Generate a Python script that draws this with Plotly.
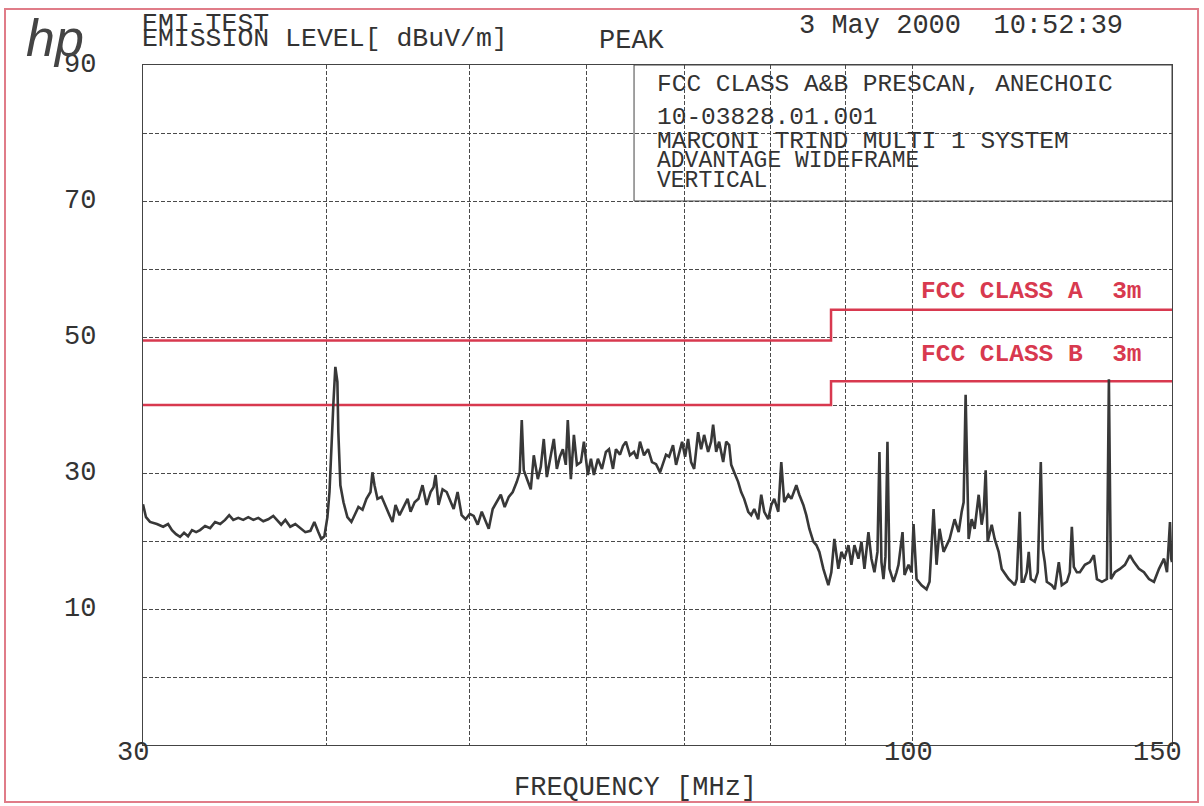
import math
import plotly.graph_objects as go

# ---------------- data ----------------
FREQ_MHZ = [
    30.00, 30.14, 30.33, 30.66, 30.96, 31.20, 31.39, 31.59, 31.79, 31.99,
    32.19, 32.39, 32.60, 32.80, 33.06, 33.32, 33.58, 33.85, 34.11, 34.33,
    34.55, 34.82, 35.09, 35.37, 35.65, 35.93, 36.21, 36.49, 36.78, 37.01,
    37.24, 37.48, 37.77, 38.07, 38.37, 38.67, 38.98, 39.22, 39.47, 39.65,
    39.84, 40.03, 40.16, 40.28, 40.41, 40.53, 40.66, 40.72, 40.85, 41.05,
    41.30, 41.56, 41.82, 42.02, 42.29, 42.55, 42.82, 42.95, 43.09, 43.29,
    43.57, 43.84, 44.11, 44.32, 44.53, 44.81, 45.09, 45.38, 45.59, 45.88,
    46.16, 46.45, 46.75, 47.04, 47.26, 47.41, 47.63, 47.93, 48.24, 48.54,
    48.77, 49.07, 49.38, 49.69, 50.01, 50.32, 50.64, 50.96, 51.28, 51.52,
    51.84, 52.17, 52.50, 52.82, 53.16, 53.49, 53.83, 54.08, 54.25, 54.42,
    54.68, 55.02, 55.28, 55.63, 55.89, 56.15, 56.42, 56.68, 57.04, 57.31,
    57.58, 57.85, 58.12, 58.30, 58.58, 58.86, 59.14, 59.51, 59.79, 60.16,
    60.45, 60.73, 61.11, 61.50, 61.88, 62.18, 62.57, 62.86, 63.26, 63.56,
    63.85, 64.25, 64.66, 64.97, 65.27, 65.68, 66.10, 66.51, 66.93, 67.35,
    67.67, 67.98, 68.31, 68.73, 69.06, 69.38, 69.71, 70.04, 70.37, 70.70,
    71.04, 71.48, 71.82, 72.16, 72.61, 72.95, 73.18, 73.53, 73.87, 74.34,
    74.69, 75.04, 75.28, 75.63, 76.10, 76.46, 76.82, 77.31, 77.67, 78.04,
    78.53, 78.90, 79.27, 79.77, 80.15, 80.52, 81.03, 81.41, 81.79, 82.31,
    82.70, 83.35, 83.74, 84.27, 84.66, 85.06, 85.60, 86.00, 86.41, 86.95,
    87.36, 87.63, 88.04, 88.46, 89.01, 89.44, 89.86, 90.43, 90.85, 91.28,
    91.85, 92.29, 92.72, 93.30, 93.74, 94.18, 94.63, 94.92, 95.22, 95.52,
    95.82, 96.12, 96.42, 97.03, 97.49, 97.79, 98.41, 98.72, 99.34, 99.81,
    100.12, 100.59, 101.38, 102.18, 102.66, 103.31, 103.79, 104.28, 104.94, 105.43,
    105.93, 106.76, 107.44, 107.95, 108.28, 108.62, 108.96, 109.13, 109.65, 110.16,
    110.86, 111.38, 111.73, 112.08, 112.43, 113.14, 113.67, 114.38, 114.93, 115.65,
    116.19, 116.74, 117.29, 117.66, 118.21, 118.58, 118.95, 119.51, 119.89, 120.27,
    121.02, 121.59, 122.17, 122.55, 122.93, 123.32, 124.29, 124.88, 125.66, 126.25,
    127.25, 127.84, 128.25, 128.65, 129.26, 129.87, 130.89, 131.92, 132.75, 133.38,
    134.43, 135.48, 135.90, 136.33, 137.19, 138.27, 139.35, 140.45, 141.34, 142.44,
    143.56, 144.69, 145.83, 146.98, 148.14, 148.83, 149.53, 149.80, 150.00,
]

LEVEL_DBUV = [
    25.4, 23.5, 22.8, 22.5, 22.1, 22.5, 21.6, 21.0, 20.6, 21.2,
    20.7, 21.6, 21.3, 21.6, 22.2, 21.9, 22.8, 22.5, 23.1, 23.8,
    23.1, 23.4, 23.1, 23.5, 23.1, 23.4, 22.9, 23.2, 23.7, 23.1,
    22.4, 23.1, 22.1, 22.5, 21.9, 21.3, 21.5, 22.8, 21.3, 20.3,
    20.7, 23.5, 27.2, 34.6, 40.4, 45.6, 43.4, 36.0, 28.2, 25.7,
    23.5, 22.8, 24.0, 25.0, 24.6, 26.2, 27.2, 30.1, 28.2, 26.2,
    26.5, 25.0, 23.8, 22.8, 25.3, 23.8, 25.0, 26.2, 24.3, 25.7,
    26.2, 28.2, 25.3, 27.2, 27.9, 29.7, 25.3, 27.6, 27.2, 25.7,
    24.7, 27.2, 23.8, 23.2, 24.0, 23.7, 22.4, 24.3, 22.8, 21.8,
    24.7, 25.7, 26.8, 25.0, 26.5, 27.2, 28.7, 30.1, 37.8, 30.4,
    29.1, 27.6, 32.6, 29.1, 30.9, 35.0, 29.4, 31.6, 35.0, 30.6,
    32.4, 33.5, 31.2, 37.8, 29.1, 35.6, 31.2, 31.6, 34.6, 29.7,
    32.1, 29.7, 32.1, 30.6, 33.1, 33.5, 30.6, 33.5, 32.7, 34.0,
    34.6, 32.6, 33.1, 32.1, 34.6, 32.6, 33.5, 31.6, 31.3, 30.1,
    31.3, 32.7, 32.4, 34.1, 31.2, 33.1, 34.6, 32.4, 35.0, 31.6,
    30.6, 36.0, 33.5, 35.6, 33.1, 34.6, 37.1, 33.1, 34.6, 31.6,
    34.6, 34.1, 31.2, 30.1, 28.7, 27.2, 26.2, 24.3, 23.8, 24.7,
    23.2, 26.8, 24.3, 23.2, 25.3, 26.2, 24.3, 31.6, 25.7, 26.8,
    26.2, 28.2, 26.8, 25.3, 23.8, 21.8, 19.9, 19.4, 18.4, 15.9,
    14.4, 13.5, 15.4, 20.3, 15.9, 18.4, 17.4, 19.4, 16.5, 19.4,
    17.4, 19.9, 15.9, 21.3, 17.4, 15.4, 18.4, 33.1, 16.9, 14.4,
    17.7, 34.6, 15.9, 14.0, 15.4, 16.5, 21.3, 15.0, 16.5, 15.4,
    22.5, 14.4, 13.5, 12.9, 14.0, 24.7, 16.5, 21.8, 18.4, 19.4,
    20.3, 23.2, 21.3, 24.3, 25.7, 41.5, 24.3, 20.3, 23.2, 21.8,
    26.8, 22.4, 24.3, 30.4, 19.9, 22.4, 20.3, 18.4, 15.9, 15.0,
    14.4, 14.0, 13.5, 14.4, 24.3, 14.0, 14.0, 15.4, 18.4, 14.4,
    14.0, 15.4, 31.6, 18.8, 16.9, 14.0, 13.5, 12.9, 16.9, 13.5,
    14.0, 15.4, 22.1, 16.2, 15.4, 15.4, 16.5, 16.9, 17.9, 14.4,
    14.0, 14.4, 43.8, 14.4, 15.4, 15.9, 16.5, 17.9, 16.9, 15.9,
    15.4, 14.4, 14.0, 15.9, 17.4, 15.4, 22.8, 17.4, 16.9,
]

LIMIT_FREQ = [30, 88, 150]
CLASS_A_3M = [49.5, 54.0, 54.0]
CLASS_B_3M = [40.0, 43.5, 43.5]

X_GRID = [30, 40, 50, 60, 70, 80, 90, 100, 150]
X_LABELS = [30, 100, 150]
Y_LABELS = [90, 70, 50, 30, 10]

INFO_LINES = [
    "FCC CLASS A&B PRESCAN, ANECHOIC",
    "10-03828.01.001",
    "MARCONI TRIND MULTI 1 SYSTEM",
    "ADVANTAGE WIDEFRAME",
    "VERTICAL",
]
LIMIT_LABELS = ["FCC CLASS A\u00a0\u00a03m", "FCC CLASS B\u00a0\u00a03m"]

# ---------------- styling ----------------
FONT = "Liberation Mono"
INK = "#333333"
RED = "#d8394f"
GRID = "#4a4a4a"

fig = go.Figure()
fig.add_trace(go.Scatter(x=LIMIT_FREQ, y=CLASS_A_3M, mode="lines", line_shape="hv",
                         line=dict(color=RED, width=2.5), hoverinfo="skip"))
fig.add_trace(go.Scatter(x=LIMIT_FREQ, y=CLASS_B_3M, mode="lines", line_shape="hv",
                         line=dict(color=RED, width=2.5), hoverinfo="skip"))
fig.add_trace(go.Scatter(x=FREQ_MHZ, y=LEVEL_DBUV, mode="lines",
                         line=dict(color="#383838", width=2.6)))

fig.update_layout(
    width=1204, height=806,
    margin=dict(l=143, r=32, t=65, b=61),
    paper_bgcolor="white", plot_bgcolor="white",
    showlegend=False,
    font=dict(family=FONT, color=INK),
)
fig.update_xaxes(type="log", range=[math.log10(30), math.log10(150)],
                 tickmode="array", tickvals=X_GRID, showticklabels=False, ticks="",
                 showgrid=True, gridcolor=GRID, gridwidth=1, griddash="4px,2px",
                 showline=True, mirror=True, linecolor="#444444", linewidth=1,
                 zeroline=False)
fig.update_yaxes(range=[-10, 90], tick0=0, dtick=10, showticklabels=False, ticks="",
                 showgrid=True, gridcolor=GRID, gridwidth=1, griddash="4px,2px",
                 showline=True, mirror=True, linecolor="#444444", linewidth=1,
                 zeroline=False)

ann = []
for v in Y_LABELS:
    ann.append(dict(x=-0.044, xref="paper", y=v, yref="y", text=str(v),
                    xanchor="right", yanchor="middle", showarrow=False,
                    font=dict(size=27, family=FONT, color=INK)))
x_label_shift = [-10, -4, -15]
for v, sh in zip(X_LABELS, x_label_shift):
    ann.append(dict(x=math.log10(v), xref="x", y=-0.012, yref="paper", text=str(v),
                    xanchor="center", yanchor="middle", xshift=sh, showarrow=False,
                    font=dict(size=27, family=FONT, color=INK)))
ann.append(dict(x=0.479, xref="paper", y=-0.063, yref="paper",
                text="FREQUENCY\u00a0[MHz]", xanchor="center", yanchor="middle",
                showarrow=False, font=dict(size=27, family=FONT, color=INK)))
# header
ann.append(dict(x=-0.003, xref="paper", y=1.061, yref="paper", text="EMI-TEST",
                xanchor="left", yanchor="middle", showarrow=False,
                font=dict(size=26.5, family=FONT, color=INK)))
ann.append(dict(x=-0.003, xref="paper", y=1.038, yref="paper",
                text="EMISSION LEVEL[ dBuV/m]", xanchor="left", yanchor="middle",
                showarrow=False, font=dict(size=26.5, family=FONT, color=INK)))
ann.append(dict(x=0.441, xref="paper", y=1.036, yref="paper", text="PEAK",
                xanchor="left", yanchor="middle", showarrow=False,
                font=dict(size=27, family=FONT, color=INK)))
ann.append(dict(x=0.636, xref="paper", y=1.057, yref="paper",
                text="3 May 2000\u00a0\u00a010:52:39", xanchor="left", yanchor="middle",
                showarrow=False, font=dict(size=27, family=FONT, color=INK)))
ann.append(dict(x=-0.086, xref="paper", y=1.040, yref="paper", text="<i>hp</i>",
                xanchor="center", yanchor="middle", showarrow=False,
                font=dict(size=52, family="Liberation Sans", color="#444444")))
# info box text
info_y = [0.972, 0.9235, 0.8868, 0.8588, 0.8294]
info_size = [24.5, 24.5, 24.5, 23, 23]
for line, yy, sz in zip(INFO_LINES, info_y, info_size):
    ann.append(dict(x=0.4976, xref="paper", y=yy, yref="paper", text=line,
                    xanchor="left", yanchor="middle", showarrow=False,
                    font=dict(size=sz, family=FONT, color=INK)))
# limit labels
for lab, yy in zip(LIMIT_LABELS, [0.6662, 0.575]):
    ann.append(dict(x=0.7541, xref="paper", y=yy, yref="paper", text="<b>" + lab + "</b>",
                    xanchor="left", yanchor="middle", showarrow=False,
                    font=dict(size=24.5, family=FONT, color=RED)))
fig.update_layout(annotations=ann)

fig.update_layout(shapes=[
    dict(type="rect", xref="paper", yref="y", x0=0.4772, x1=1.0, y0=70, y1=90,
         line=dict(color="#444444", width=1), fillcolor="rgba(0,0,0,0)"),
    dict(type="rect", xref="paper", yref="paper", x0=-0.1341, x1=1.0253,
         y0=-0.0838, y1=1.0824, line=dict(color="#e07c88", width=2),
         fillcolor="rgba(0,0,0,0)", layer="below"),
])

fig.write_html("out.html")
